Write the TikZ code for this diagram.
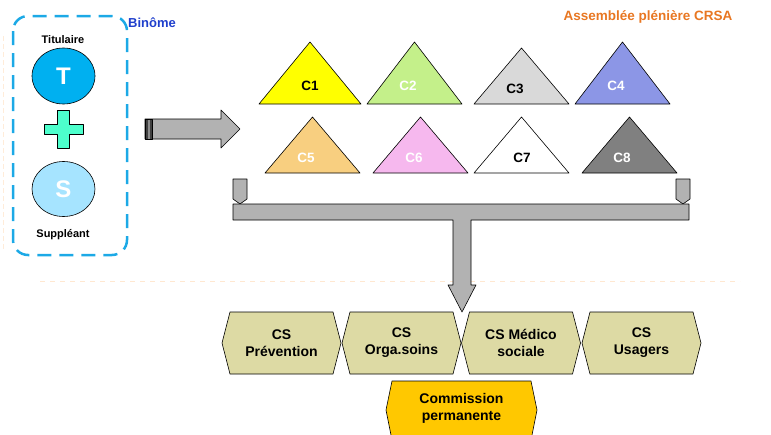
\documentclass[tikz,border=0pt]{standalone}
\usepackage{fontspec}
\setmainfont{Liberation Sans}
\usetikzlibrary{shapes.geometric}

\definecolor{crsaorange}{HTML}{E87722}
\definecolor{binomeblue}{HTML}{1F3FCC}
\definecolor{boxcyan}{HTML}{1CA9E6}
\definecolor{titblue}{HTML}{00B0F0}
\definecolor{supblue}{HTML}{A6E4FF}
\definecolor{plusgreen}{HTML}{4DFFCC}
\definecolor{flowgray}{HTML}{B2B2B2}
\definecolor{cskhaki}{HTML}{DDDAA4}
\definecolor{cpgold}{HTML}{FFC800}
\definecolor{cone}{HTML}{FFFF00}
\definecolor{ctwo}{HTML}{C4F08A}
\definecolor{cthree}{HTML}{D9D9D9}
\definecolor{cfour}{HTML}{8C96E6}
\definecolor{cfive}{HTML}{F8CF80}
\definecolor{csix}{HTML}{F6B8EE}
\definecolor{ceight}{HTML}{808080}

\begin{document}
\begin{tikzpicture}[x=1pt,y=-1pt,line join=round,
  outl/.style={draw=black,line width=.6pt},
  lbl/.style={font=\bfseries\fontsize{13.5}{15}\selectfont},
  cslbl/.style={font=\bfseries\fontsize{14}{17}\selectfont,align=center,inner sep=0},
  small/.style={font=\bfseries\fontsize{11}{13}\selectfont,inner sep=0}]
\useasboundingbox (0,0) rectangle (771,434);

% faint guide lines
\draw[orange!18,line width=1pt,dash pattern=on 5pt off 5pt] (40,281)--(740,281);
\draw[orange!15,line width=1pt,dash pattern=on 5pt off 3pt] (3,36)--(3,250);

% binome
\draw[boxcyan,line width=2.5pt,dash pattern=on 14pt off 8pt,rounded corners=15pt] (13,16) rectangle (127,255);
\node[font=\bfseries\fontsize{13}{15}\selectfont,text=binomeblue,anchor=west,inner sep=0] (binome) at (128,23) {Binôme};
\node[small] (titlbl) at (63,40) {Titulaire};
\node[ellipse,outl,fill=titblue,minimum width=63,minimum height=56,inner sep=0,
  text=white,font=\bfseries\fontsize{24}{24}\selectfont] (tit) at (63.5,76) {T};
\filldraw[outl,fill=plusgreen] (57,110)--(69,110)--(69,124)--(83,124)--(83,134)--(69,134)
  --(69,148)--(57,148)--(57,134)--(44,134)--(44,124)--(57,124)--cycle;
\node[ellipse,outl,fill=supblue,minimum width=63,minimum height=55,inner sep=0,
  text=white,font=\bfseries\fontsize{24}{24}\selectfont] (sup) at (63.5,189) {S};
\node[small] (suplbl) at (63,235) {Suppléant};

% arrow towards the assembly
\coordinate (arrtail) at (145,129);
\filldraw[outl,fill=flowgray] (arrtail) ++(0,-10) -- ++(76,0) -- ++(0,-9) -- ++(19,19)
  -- ++(-19,19) -- ++(0,-9) -- ++(-76,0) -- cycle;
\filldraw[outl,fill=black!75] (arrtail) ++(0,-10) rectangle ++(7,20);
\draw[black!45,line width=1.2pt] (arrtail) ++(4,-9.5) -- ++(0,19);

% assembly title
\node[font=\bfseries\fontsize{13.5}{15}\selectfont,text=crsaorange,inner sep=0] (crsa) at (648,17) {Assemblée plénière CRSA};

% colleges
\foreach \n/\xl/\xr/\ya/\yb/\col/\tcol/\lx/\ly in {
  C1/259/361/42/104/cone/black/310/86,
  C2/367/462/42/104/ctwo/white/408/86,
  C3/474/569/48/104/cthree/black/515/89,
  C4/575/670/42/104/cfour/white/616/86,
  C5/265/360/117/173/cfive/white/306/158,
  C6/373/468/117/173/csix/white/414/158,
  C7/474/569/117/173/white/black/522/158,
  C8/582/677/117/173/ceight/white/622/158}{
  \filldraw[outl,fill=\col] (\xl,\yb) -- ({(\xl+\xr)/2},\ya) -- (\xr,\yb) -- cycle;
  \node[lbl,text=\tcol] (\n) at (\lx,\ly) {\n};
}

% collector and arrow down to the commissions
\foreach \x in {240,683}
  \filldraw[outl,fill=flowgray] (\x-7,179) -- (\x+7,179) -- (\x+7,199) -- (\x,204) -- (\x-7,199) -- cycle;
\coordinate (colltip) at (462,312);
\filldraw[outl,fill=flowgray] (233,204) -- (689,204) -- (689,220) -- (471,220) -- (471,285)
  -- (476,285) -- (colltip) -- (448,285) -- (453,285) -- (453,220) -- (233,220) -- cycle;

% specialised commissions
\foreach \n/\xc/\txt in {prev/281.5/{CS\\Prévention},orga/401.5/{CS\\Orga.soins},
  medsoc/521/{CS Médico\\sociale},usag/641.5/{CS\\Usagers}}{
  \filldraw[outl,fill=cskhaki] ({\xc-59.5},343) -- ({\xc-51.5},312) -- ({\xc+51.5},312)
    -- ({\xc+59.5},343) -- ({\xc+51.5},374) -- ({\xc-51.5},374) -- cycle;
  \node[cslbl] (\n) at (\xc,343) {\txt};
}
\filldraw[outl,fill=cpgold] (386,410) -- (392,381) -- (531,381) -- (537,410) -- (531,440)
  -- (392,440) -- cycle;
\node[cslbl] (perm) at (461.5,408) {Commission\\permanente};
\end{tikzpicture}
\end{document}
